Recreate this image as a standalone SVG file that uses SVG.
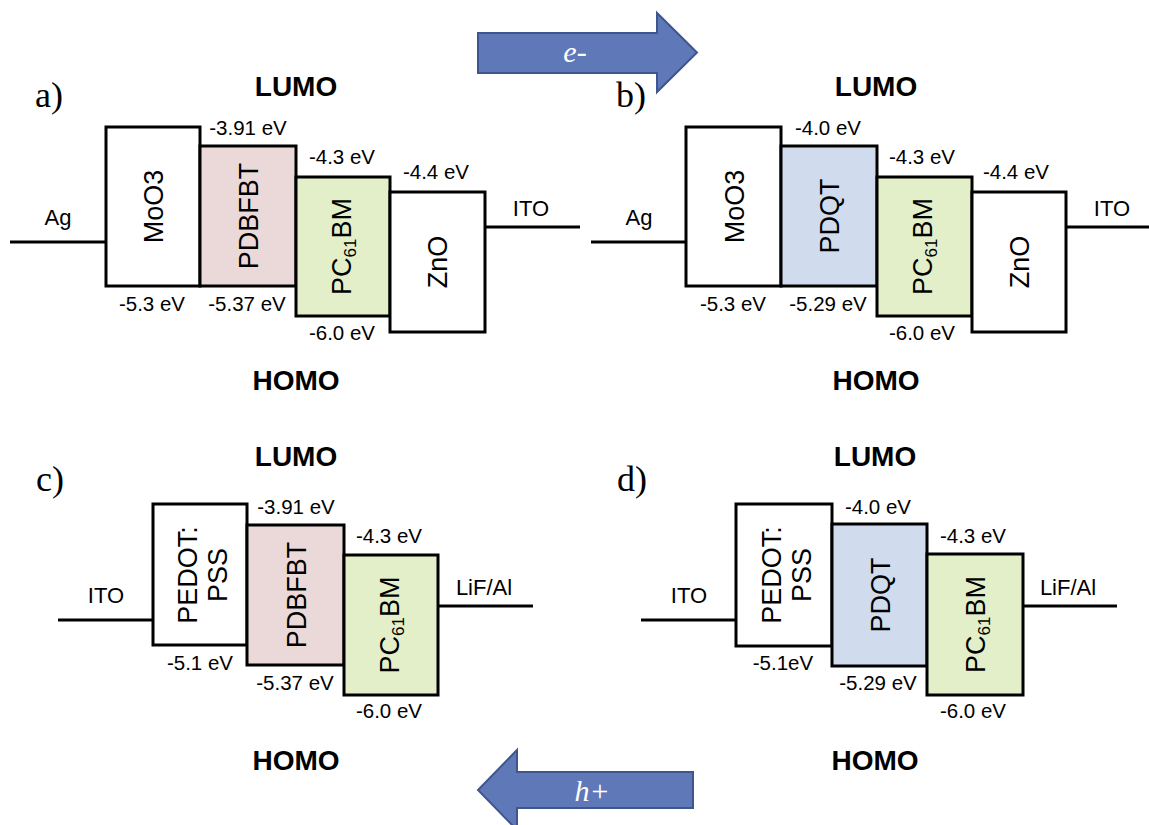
<svg xmlns="http://www.w3.org/2000/svg" width="1149" height="825" viewBox="0 0 1149 825">
<style>
.box{stroke:#000;stroke-width:3}
.w{fill:#fff}
.pink{fill:#EAD9D8}
.blue{fill:#D0DCEE}
.green{fill:#E3EFC9}
.lead{stroke:#000;stroke-width:3;fill:none}
.ev{font-family:"Liberation Sans",Arial,sans-serif;font-size:20.5px;text-anchor:middle;fill:#000}
.el{font-family:"Liberation Sans",Arial,sans-serif;font-size:22px;text-anchor:middle;fill:#000}
.rot{font-family:"Liberation Sans",Arial,sans-serif;font-size:27px;text-anchor:middle;fill:#000}
.sub{font-size:17px}
.hd{font-family:"Liberation Sans",Arial,sans-serif;font-size:28px;font-weight:bold;text-anchor:middle;fill:#000}
.pl{font-family:"Palatino Linotype","Liberation Serif",serif;font-size:36px;fill:#000}
.arrow{fill:#5F78B8;stroke:#3F5590;stroke-width:2}
.at{font-family:"Liberation Serif",serif;font-style:italic;font-size:30px;fill:#fff;text-anchor:middle}
</style>

<!-- arrows -->
<g id="arrow-e">
<polygon class="arrow" points="478,33 657,33 657,13 697,52.5 657,92 657,73 478,73"/>
<text class="at" x="575" y="62">e-</text>
</g>
<g id="arrow-h">
<polygon class="arrow" points="693,772 517,772 517,750 478,790 517,830 517,808 693,808"/>
<text class="at" x="592" y="801">h+</text>
</g>

<g id="connectors">
<!-- panel a -->
<line class="lead" x1="10" y1="242" x2="106" y2="242"/>
<line class="lead" x1="485" y1="227" x2="580" y2="227"/>
<!-- panel b -->
<line class="lead" x1="591" y1="242" x2="686" y2="242"/>
<line class="lead" x1="1065" y1="227" x2="1149" y2="227"/>
<!-- panel c -->
<line class="lead" x1="58" y1="620" x2="153" y2="620"/>
<line class="lead" x1="438" y1="606" x2="533" y2="606"/>
<!-- panel d -->
<line class="lead" x1="641" y1="620" x2="736" y2="620"/>
<line class="lead" x1="1023" y1="606" x2="1117" y2="606"/>
</g>

<!-- ===== Panel a ===== -->
<g id="panel-a-labels">
<text class="pl" x="35" y="107">a)</text>
<text class="hd" x="296" y="96">LUMO</text>
<text class="hd" x="296" y="390">HOMO</text>
<text class="el" x="58" y="225">Ag</text>
<text class="el" x="531" y="216">ITO</text>
<text class="ev" x="248" y="135">-3.91 eV</text>
<text class="ev" x="342" y="164">-4.3 eV</text>
<text class="ev" x="436" y="179">-4.4 eV</text>
<text class="ev" x="152" y="311">-5.3 eV</text>
<text class="ev" x="247" y="311">-5.37 eV</text>
<text class="ev" x="342" y="340">-6.0 eV</text>
</g>
<g id="a-moo3">
<rect class="box w" x="106" y="127" width="94" height="159"/>
<text class="rot" transform="translate(163,206.5) rotate(-90)">MoO3</text>
</g>
<g id="a-pdbfbt">
<rect class="box pink" x="200" y="146" width="96" height="140"/>
<text class="rot" transform="translate(258,216) rotate(-90)">PDBFBT</text>
</g>
<g id="a-pcbm">
<rect class="box green" x="296" y="177" width="94" height="139"/>
<text class="rot" transform="translate(351,246.5) rotate(-90)">PC<tspan class="sub" dy="5">61</tspan><tspan dy="-5">BM</tspan></text>
</g>
<g id="a-zno">
<rect class="box w" x="390" y="192" width="95" height="140"/>
<text class="rot" transform="translate(447,262) rotate(-90)">ZnO</text>
</g>

<!-- ===== Panel b ===== -->
<g id="panel-b-labels">
<text class="pl" x="616" y="107">b)</text>
<text class="hd" x="876" y="96">LUMO</text>
<text class="hd" x="876" y="390">HOMO</text>
<text class="el" x="639" y="225">Ag</text>
<text class="el" x="1112" y="216">ITO</text>
<text class="ev" x="828" y="135">-4.0 eV</text>
<text class="ev" x="922" y="164">-4.3 eV</text>
<text class="ev" x="1016" y="179">-4.4 eV</text>
<text class="ev" x="733" y="311">-5.3 eV</text>
<text class="ev" x="828" y="311">-5.29 eV</text>
<text class="ev" x="922" y="340">-6.0 eV</text>
</g>
<g id="b-moo3">
<rect class="box w" x="686" y="127" width="95" height="159"/>
<text class="rot" transform="translate(743.5,206.5) rotate(-90)">MoO3</text>
</g>
<g id="b-pdqt">
<rect class="box blue" x="781" y="146" width="96" height="140"/>
<text class="rot" transform="translate(839,216) rotate(-90)">PDQT</text>
</g>
<g id="b-pcbm">
<rect class="box green" x="877" y="177" width="95" height="139"/>
<text class="rot" transform="translate(932,246.5) rotate(-90)">PC<tspan class="sub" dy="5">61</tspan><tspan dy="-5">BM</tspan></text>
</g>
<g id="b-zno">
<rect class="box w" x="972" y="192" width="94" height="140"/>
<text class="rot" transform="translate(1029,262) rotate(-90)">ZnO</text>
</g>

<!-- ===== Panel c ===== -->
<g id="panel-c-labels">
<text class="pl" x="36" y="491">c)</text>
<text class="hd" x="296" y="466">LUMO</text>
<text class="hd" x="296" y="770">HOMO</text>
<text class="el" x="106" y="603">ITO</text>
<text class="el" x="484" y="595">LiF/Al</text>
<text class="ev" x="296" y="514">-3.91 eV</text>
<text class="ev" x="389" y="543">-4.3 eV</text>
<text class="ev" x="200" y="670">-5.1 eV</text>
<text class="ev" x="295" y="690">-5.37 eV</text>
<text class="ev" x="389" y="718">-6.0 eV</text>
</g>
<g id="c-pedot">
<rect class="box w" x="153" y="504" width="94" height="141"/>
<text class="rot" transform="translate(197,575) rotate(-90)">PEDOT:</text>
<text class="rot" transform="translate(227,575) rotate(-90)">PSS</text>
</g>
<g id="c-pdbfbt">
<rect class="box pink" x="247" y="525" width="97" height="140"/>
<text class="rot" transform="translate(305.5,595) rotate(-90)">PDBFBT</text>
</g>
<g id="c-pcbm">
<rect class="box green" x="344" y="555" width="94" height="140"/>
<text class="rot" transform="translate(399,625) rotate(-90)">PC<tspan class="sub" dy="5">61</tspan><tspan dy="-5">BM</tspan></text>
</g>

<!-- ===== Panel d ===== -->
<g id="panel-d-labels">
<text class="pl" x="617" y="491">d)</text>
<text class="hd" x="875" y="466">LUMO</text>
<text class="hd" x="875" y="770">HOMO</text>
<text class="el" x="689" y="603">ITO</text>
<text class="el" x="1068" y="595">LiF/Al</text>
<text class="ev" x="878" y="514">-4.0 eV</text>
<text class="ev" x="973" y="543">-4.3 eV</text>
<text class="ev" x="783" y="670">-5.1eV</text>
<text class="ev" x="878" y="690">-5.29 eV</text>
<text class="ev" x="973" y="718">-6.0 eV</text>
</g>
<g id="d-pedot">
<rect class="box w" x="736" y="504" width="96" height="142"/>
<text class="rot" transform="translate(781,575) rotate(-90)">PEDOT:</text>
<text class="rot" transform="translate(811,575) rotate(-90)">PSS</text>
</g>
<g id="d-pdqt">
<rect class="box blue" x="832" y="524" width="95" height="142"/>
<text class="rot" transform="translate(889.5,595) rotate(-90)">PDQT</text>
</g>
<g id="d-pcbm">
<rect class="box green" x="927" y="554" width="96" height="141"/>
<text class="rot" transform="translate(985,624.5) rotate(-90)">PC<tspan class="sub" dy="5">61</tspan><tspan dy="-5">BM</tspan></text>
</g>
</svg>
